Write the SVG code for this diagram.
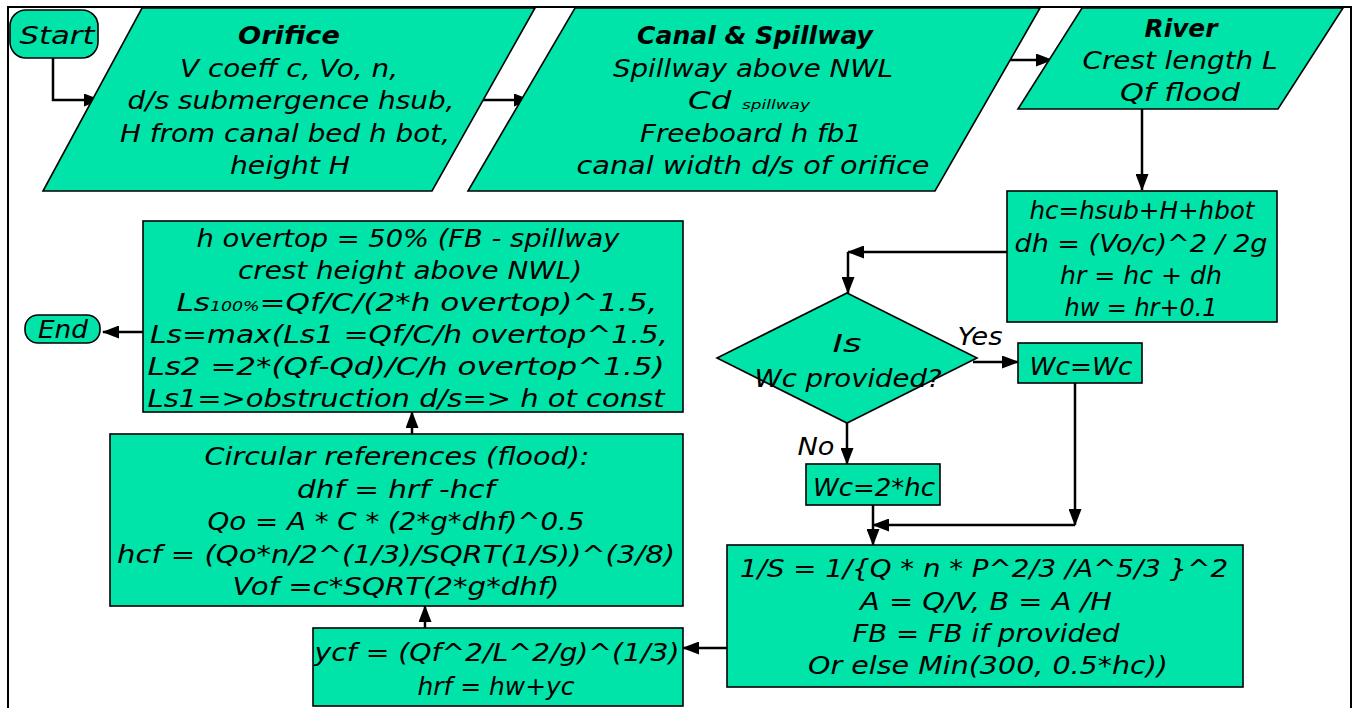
<svg xmlns="http://www.w3.org/2000/svg" width="1355" height="708" viewBox="0 0 1355 708">
<style>
.s{fill:#00E3A9;stroke:#000;stroke-width:1.6}
.t{font-family:"DejaVu Sans",sans-serif;font-style:oblique;font-size:25px;fill:#000;text-anchor:middle}
.b{font-weight:bold}
.c{fill:none;stroke:#000;stroke-width:2.5}
</style>
<defs>
<marker id="ah" markerUnits="userSpaceOnUse" markerWidth="17" markerHeight="13" refX="16" refY="6.5" orient="auto">
<path d="M0,0 L17,6.5 L0,13 Z" fill="#000"/>
</marker>
</defs>
<rect x="0" y="0" width="1355" height="708" fill="#fff"/>
<path d="M8,708 V7 H1351 V708" fill="none" stroke="#000" stroke-width="2"/>

<g id="connectors">
<path class="c" d="M53,58 V100 H100" marker-end="url(#ah)"/>
<path class="c" d="M483,100 H530" marker-end="url(#ah)"/>
<path class="c" d="M1010,60 H1052" marker-end="url(#ah)"/>
<path class="c" d="M1142,109 V190" marker-end="url(#ah)"/>
<path class="c" d="M1007,252 H848" marker-end="url(#ah)"/>
<path class="c" d="M848,252 V293" marker-end="url(#ah)"/>
<path class="c" d="M973,362 H1018" marker-end="url(#ah)"/>
<path class="c" d="M847,423 V464" marker-end="url(#ah)"/>
<path class="c" d="M1075,383 V525" marker-end="url(#ah)"/>
<path class="c" d="M1075,525 H873" marker-end="url(#ah)"/>
<path class="c" d="M873,505 V545" marker-end="url(#ah)"/>
<path class="c" d="M727,648 H683" marker-end="url(#ah)"/>
<path class="c" d="M425,628 V606" marker-end="url(#ah)"/>
<path class="c" d="M412,434 V412" marker-end="url(#ah)"/>
<path class="c" d="M143,332 H103" marker-end="url(#ah)"/>
</g>

<g id="start">
<rect class="s" x="10" y="10" width="88" height="48" rx="16"/>
<text class="t" x="57" y="44" textLength="75" lengthAdjust="spacingAndGlyphs">Start</text>
</g>

<g id="orifice">
<path class="s" d="M142,8 H535 L432,191 H43 Z"/>
<text class="t b" x="289" y="44" textLength="102" lengthAdjust="spacingAndGlyphs">Orifice</text>
<text class="t" x="289" y="77" textLength="218" lengthAdjust="spacingAndGlyphs">V coeff c, Vo, n,</text>
<text class="t" x="291" y="109" textLength="327" lengthAdjust="spacingAndGlyphs">d/s submergence hsub,</text>
<text class="t" x="285" y="142" textLength="330" lengthAdjust="spacingAndGlyphs">H from canal bed h bot,</text>
<text class="t" x="290" y="174" textLength="120" lengthAdjust="spacingAndGlyphs">height H</text>
</g>

<g id="canal">
<path class="s" d="M575,8 H1040 L935,191 H468 Z"/>
<text class="t b" x="755" y="44" textLength="236" lengthAdjust="spacingAndGlyphs">Canal &amp; Spillway</text>
<text class="t" x="753" y="77" textLength="280" lengthAdjust="spacingAndGlyphs">Spillway above NWL</text>
<text class="t" x="749" y="109" textLength="122" lengthAdjust="spacingAndGlyphs">Cd <tspan font-size="13">spillway</tspan></text>
<text class="t" x="751" y="142" textLength="222" lengthAdjust="spacingAndGlyphs">Freeboard h fb1</text>
<text class="t" x="753" y="174" textLength="353" lengthAdjust="spacingAndGlyphs">canal width d/s of orifice</text>
</g>

<g id="river">
<path class="s" d="M1082,8 H1343 L1278,109 H1018 Z"/>
<text class="t b" x="1181" y="37" textLength="73" lengthAdjust="spacingAndGlyphs">River</text>
<text class="t" x="1180" y="69" textLength="195" lengthAdjust="spacingAndGlyphs">Crest length L</text>
<text class="t" x="1180" y="101" textLength="120" lengthAdjust="spacingAndGlyphs">Qf flood</text>
</g>

<g id="hc">
<rect class="s" x="1007" y="191" width="270" height="131"/>
<text class="t" x="1142" y="219" textLength="225" lengthAdjust="spacingAndGlyphs">hc=hsub+H+hbot</text>
<text class="t" x="1141" y="252" textLength="253" lengthAdjust="spacingAndGlyphs">dh = (Vo/c)^2 / 2g</text>
<text class="t" x="1141" y="284" textLength="162" lengthAdjust="spacingAndGlyphs">hr = hc + dh</text>
<text class="t" x="1141" y="316" textLength="153" lengthAdjust="spacingAndGlyphs">hw = hr+0.1</text>
</g>

<g id="decision">
<path class="s" d="M847,293 L977,358 L847,423 L717,358 Z"/>
<text class="t" x="847" y="352" textLength="29" lengthAdjust="spacingAndGlyphs">Is</text>
<text class="t" x="848" y="387" textLength="187" lengthAdjust="spacingAndGlyphs">Wc provided?</text>
<text class="t" x="980" y="345" textLength="45" lengthAdjust="spacingAndGlyphs">Yes</text>
<text class="t" x="816" y="455" textLength="37" lengthAdjust="spacingAndGlyphs">No</text>
</g>

<g id="wcwc">
<rect class="s" x="1018" y="343" width="124" height="40"/>
<text class="t" x="1081" y="375" textLength="103" lengthAdjust="spacingAndGlyphs">Wc=Wc</text>
</g>

<g id="wc2hc">
<rect class="s" x="806" y="464" width="134" height="41"/>
<text class="t" x="874" y="496" textLength="122" lengthAdjust="spacingAndGlyphs">Wc=2*hc</text>
</g>

<g id="slope">
<rect class="s" x="727" y="545" width="516" height="142"/>
<text class="t" x="984" y="577" textLength="488" lengthAdjust="spacingAndGlyphs">1/S = 1/{Q * n * P^2/3 /A^5/3 }^2</text>
<text class="t" x="986" y="610" textLength="252" lengthAdjust="spacingAndGlyphs">A = Q/V, B = A /H</text>
<text class="t" x="986" y="642" textLength="267" lengthAdjust="spacingAndGlyphs">FB = FB if provided</text>
<text class="t" x="988" y="674" textLength="360" lengthAdjust="spacingAndGlyphs">Or else Min(300, 0.5*hc))</text>
</g>

<g id="ycf">
<rect class="s" x="313" y="628" width="370" height="78"/>
<text class="t" x="497" y="661" textLength="365" lengthAdjust="spacingAndGlyphs">ycf = (Qf^2/L^2/g)^(1/3)</text>
<text class="t" x="496" y="695" textLength="157" lengthAdjust="spacingAndGlyphs">hrf = hw+yc</text>
</g>

<g id="circular">
<rect class="s" x="110" y="434" width="573" height="172"/>
<text class="t" x="397" y="465" textLength="385" lengthAdjust="spacingAndGlyphs">Circular references (flood):</text>
<text class="t" x="396" y="498" textLength="198" lengthAdjust="spacingAndGlyphs">dhf = hrf -hcf</text>
<text class="t" x="396" y="530" textLength="377" lengthAdjust="spacingAndGlyphs">Qo = A * C * (2*g*dhf)^0.5</text>
<text class="t" x="396" y="563" textLength="558" lengthAdjust="spacingAndGlyphs">hcf = (Qo*n/2^(1/3)/SQRT(1/S))^(3/8)</text>
<text class="t" x="396" y="595" textLength="327" lengthAdjust="spacingAndGlyphs">Vof =c*SQRT(2*g*dhf)</text>
</g>

<g id="overtop">
<rect class="s" x="143" y="221" width="540" height="191"/>
<text class="t" x="408" y="247" textLength="423" lengthAdjust="spacingAndGlyphs">h overtop = 50% (FB - spillway</text>
<text class="t" x="410" y="279" textLength="344" lengthAdjust="spacingAndGlyphs">crest height above NWL)</text>
<text class="t" x="417" y="311" textLength="481" lengthAdjust="spacingAndGlyphs">Ls<tspan font-size="14">100%</tspan>=Qf/C/(2*h overtop)^1.5,</text>
<text class="t" x="409" y="343" textLength="518" lengthAdjust="spacingAndGlyphs">Ls=max(Ls1 =Qf/C/h overtop^1.5,</text>
<text class="t" x="406" y="375" textLength="517" lengthAdjust="spacingAndGlyphs">Ls2 =2*(Qf-Qd)/C/h overtop^1.5)</text>
<text class="t" x="406" y="407" textLength="517" lengthAdjust="spacingAndGlyphs">Ls1=&gt;obstruction d/s=&gt; h ot const</text>
</g>

<g id="end">
<rect class="s" x="25" y="315" width="75" height="28" rx="13"/>
<text class="t" x="63" y="338" textLength="50" lengthAdjust="spacingAndGlyphs">End</text>
</g>
</svg>
